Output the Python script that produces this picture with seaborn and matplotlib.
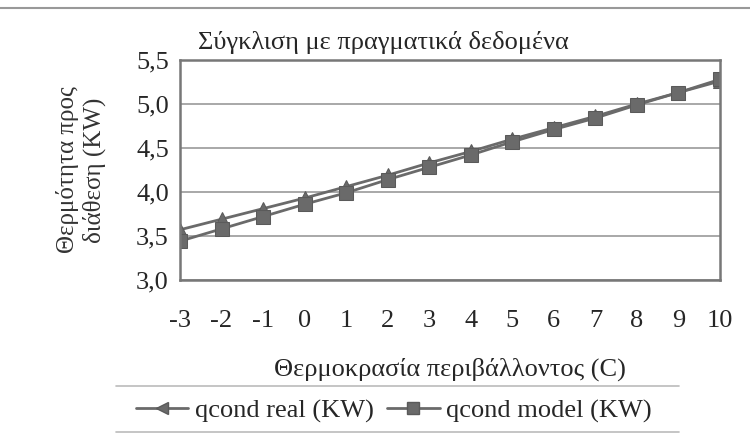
import matplotlib
matplotlib.use("Agg")
import matplotlib.pyplot as plt
import matplotlib.lines as mlines
import pandas as pd
import seaborn as sns

temps = [-3, -2, -1, 0, 1, 2, 3, 4, 5, 6, 7, 8, 9, 10]
qcond_real = [3.57, 3.69, 3.81, 3.93, 4.06, 4.19, 4.33, 4.46, 4.60, 4.73, 4.86, 5.00, 5.13, 5.26]
qcond_model = [3.44, 3.58, 3.72, 3.86, 3.99, 4.14, 4.28, 4.42, 4.57, 4.71, 4.84, 4.99, 5.13, 5.28]
series_names = ["qcond real (KW)", "qcond model (KW)"]
y_ticks = [3.0, 3.5, 4.0, 4.5, 5.0, 5.5]

sns.set_style("white")
plt.rcParams["font.family"] = ["Liberation Serif", "DejaVu Serif"]

df = pd.concat(
    [
        pd.DataFrame({"temp": temps, "value": qcond_real, "series": series_names[0]}),
        pd.DataFrame({"temp": temps, "value": qcond_model, "series": series_names[1]}),
    ],
    ignore_index=True,
)

fig = plt.figure(figsize=(7.5, 4.38), dpi=100)
ax = fig.add_axes([0.24, 0.361, 0.72, 0.502])

sns.lineplot(
    data=df, x="temp", y="value", hue="series", style="series",
    palette=["#6a6a6a", "#6a6a6a"], markers=["^", "s"], dashes=False,
    markersize=10, markeredgecolor="#5a5a5a", linewidth=2.0, ax=ax, legend=False,
)

ax.set_xlim(-3, 10)
ax.set_ylim(3.0, 5.5)
ax.set_xticks(temps)
ax.set_xticklabels([str(t) for t in temps], fontsize=19)
ax.set_yticks(y_ticks)
ax.set_yticklabels([f"{v:.1f}".replace(".", ",") for v in y_ticks], fontsize=19)
ax.tick_params(axis="both", length=0, pad=8)
ax.tick_params(axis="x", pad=22)
ax.yaxis.grid(True, color="#9a9a9a", linewidth=1.2)
for s in ax.spines.values():
    s.set_color("#777777")
    s.set_linewidth(1.8)

ax.set_xlabel("Θερμοκρασία περιβάλλοντος (C)", fontsize=19, labelpad=18)
ax.set_ylabel("Θερμότητα προς\nδιάθεση (KW)", fontsize=18, labelpad=22, color="#333333",
              linespacing=1.2)
ax.set_title("Σύγκλιση με πραγματικά δεδομένα", fontsize=19, x=0.376, pad=8)

handles = [
    mlines.Line2D([], [], color="#6a6a6a", marker="<", markersize=9, linewidth=2.0, markeredgecolor="#5a5a5a"),
    mlines.Line2D([], [], color="#6a6a6a", marker="s", markersize=8, linewidth=2.0, markeredgecolor="#5a5a5a"),
]
fig.legend(handles, series_names, loc="center", bbox_to_anchor=(0.525, 0.062), ncol=2,
           frameon=False, fontsize=19, handlelength=2.0, handletextpad=0.25, columnspacing=0.5)

for yy in (1 - 386 / 438, 1 - 432 / 438):
    fig.add_artist(mlines.Line2D([0.155, 0.905], [yy, yy], color="#bbbbbb", linewidth=1.2))
fig.add_artist(mlines.Line2D([0.0, 1.0], [1 - 8 / 438, 1 - 8 / 438], color="#999999", linewidth=1.5))

fig.savefig("out.png", dpi=100)
